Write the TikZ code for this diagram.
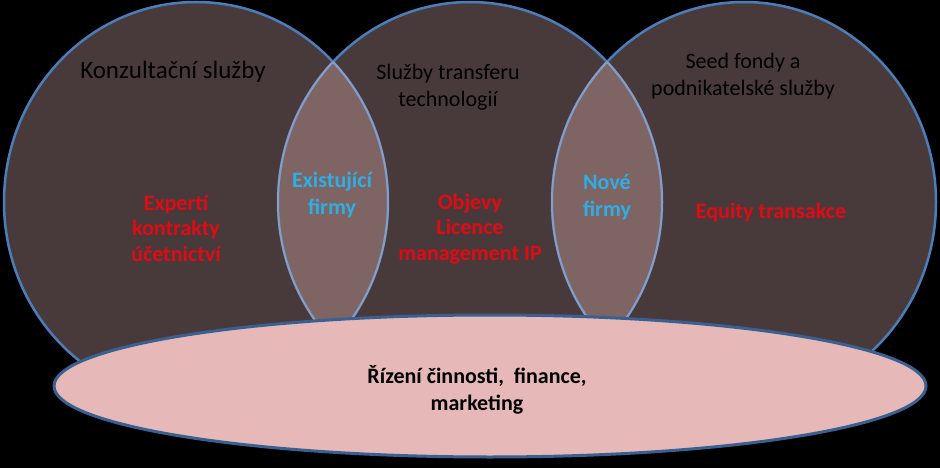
\documentclass[tikz,border=0pt]{standalone}
\usepackage{fontspec}
\setmainfont{Carlito}
\definecolor{ringfill}{RGB}{72,58,58}
\definecolor{lensfill}{RGB}{127,100,100}
\definecolor{ringblue}{RGB}{74,126,187}
\definecolor{lensline}{RGB}{140,156,192}
\definecolor{ovalfill}{RGB}{230,185,184}
\definecolor{ovalline}{RGB}{56,96,145}
\definecolor{itemred}{RGB}{225,10,20}
\definecolor{itemblue}{RGB}{45,175,230}

\begin{document}
\begin{tikzpicture}[
  x=1pt,y=-1pt,
  ring/.style={draw=ringblue,line width=2.5pt},
  title/.style={text=black,align=center,font=\fontsize{22}{27}\selectfont},
  item/.style={text=itemred,align=center,font=\fontsize{22}{25.5}\selectfont\bfseries},
  shared/.style={text=itemblue,align=center,font=\fontsize{22}{27}\selectfont\bfseries}
]
\useasboundingbox (0,0) rectangle (940,468);
\fill[black] (0,0) rectangle (940,468);

\def\ringone{(196,202) ellipse [x radius=192pt,y radius=200pt]}
\def\ringtwo{(470,202) ellipse [x radius=192pt,y radius=200pt]}
\def\ringthree{(744,202) ellipse [x radius=192pt,y radius=200pt]}

% circles
\fill[ringfill] \ringone \ringtwo \ringthree;
\begin{scope}
  \clip \ringone;
  \fill[lensfill] \ringtwo;
\end{scope}
\begin{scope}
  \clip \ringthree;
  \fill[lensfill] \ringtwo;
\end{scope}
\draw[ring] \ringone \ringtwo \ringthree;
\begin{scope}
  \clip \ringtwo;
  \draw[lensline,line width=2pt] \ringone \ringthree;
\end{scope}
\begin{scope}
  \clip \ringone;
  \draw[lensline,line width=2pt] \ringtwo;
\end{scope}
\begin{scope}
  \clip \ringthree;
  \draw[lensline,line width=2pt] \ringtwo;
\end{scope}

% bottom oval
\draw[ovalline,fill=ovalfill,line width=3pt] (490,386) ellipse [x radius=436pt,y radius=71pt];

\node[title,font=\fontsize{25}{30}\selectfont] (konz) at (173,72) {Konzultační služby};
\node[title] (transfer) at (448,87) {Služby transferu\\technologií};
\node[title] (seed) at (743,76) {Seed fondy a\\podnikatelské služby};
\node[item] (expert) at (176,228) {Expertí\\kontrakty\\účetnictví};
\node[shared] (existing) at (332,195) {Existující\\firmy};
\node[item] (objevy) at (470,229) {Objevy\\Licence\\management IP};
\node[shared] (nove) at (607,197) {Nové\\firmy};
\node[item] (equity) at (771,213) {Equity transakce};
\node[title,font=\fontsize{22}{27}\selectfont\bfseries] (rizeni) at (477,390) {Řízení činnosti,~ finance,\\marketing};

\end{tikzpicture}
\end{document}
